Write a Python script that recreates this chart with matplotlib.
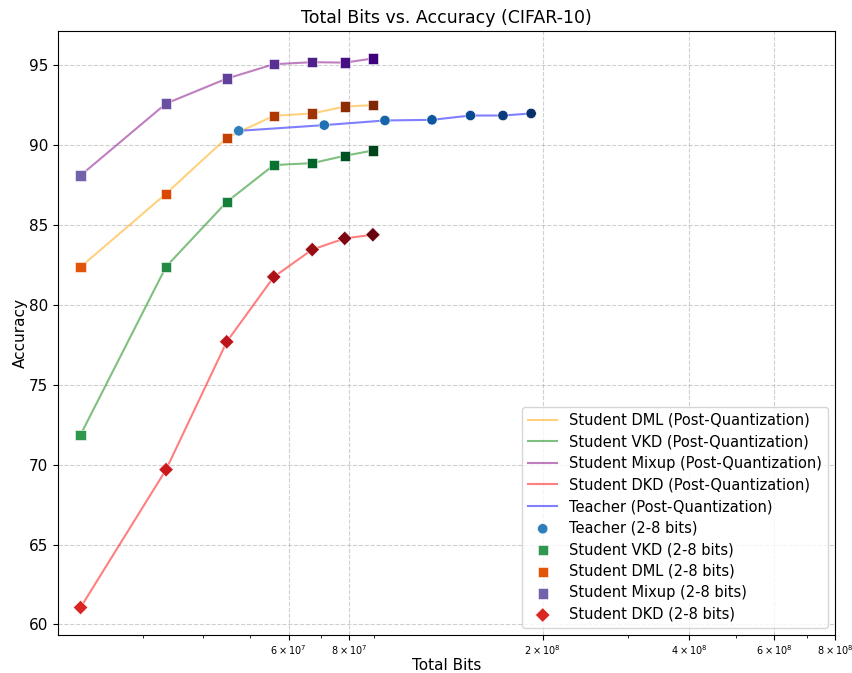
import matplotlib
matplotlib.use("Agg")
import matplotlib.pyplot as plt
import numpy as np
from matplotlib.ticker import LogFormatterSciNotation, NullFormatter

# Data (total bits for 2..8-bit quantization, accuracy)
bits = [2, 3, 4, 5, 6, 7, 8]
student_total_bits = [2.236e7, 3.354e7, 4.472e7, 5.590e7, 6.708e7, 7.826e7, 8.944e7]
teacher_total_bits = [4.735e7, 7.102e7, 9.470e7, 1.1837e8, 1.4205e8, 1.6572e8, 1.894e8]

acc_teacher = [90.89, 91.25, 91.54, 91.58, 91.85, 91.85, 91.98]
acc_vkd = [71.87, 82.39, 86.44, 88.75, 88.87, 89.33, 89.66]
acc_dml = [82.37, 86.96, 90.46, 91.83, 91.98, 92.41, 92.50]
acc_mixup = [88.10, 92.60, 94.16, 95.06, 95.19, 95.16, 95.42]
acc_dkd = [61.06, 69.69, 77.69, 81.75, 83.46, 84.16, 84.39]

xtick_values = [6e7, 8e7, 2e8, 4e8, 6e8, 8e8]

fig = plt.figure(figsize=(8.52, 6.73), dpi=100)
ax = fig.add_axes([0.0681, 0.0565, 0.9119, 0.8974])

lw = 1.5
ax.plot(student_total_bits, acc_dml, color='orange', alpha=0.5, lw=lw, label='Student DML (Post-Quantization)', zorder=2)
ax.plot(student_total_bits, acc_vkd, color='green', alpha=0.5, lw=lw, label='Student VKD (Post-Quantization)', zorder=2)
ax.plot(student_total_bits, acc_mixup, color='purple', alpha=0.5, lw=lw, label='Student Mixup (Post-Quantization)', zorder=2)
ax.plot(student_total_bits, acc_dkd, color='red', alpha=0.5, lw=lw, label='Student DKD (Post-Quantization)', zorder=2)
ax.plot(teacher_total_bits, acc_teacher, color='blue', alpha=0.5, lw=lw, label='Teacher (Post-Quantization)', zorder=2)

shades = np.linspace(0.7, 1.0, len(bits))
def cols(name):
    return plt.get_cmap(name)(shades)

s = 55
ax.scatter(teacher_total_bits, acc_teacher, c=cols('Blues'), marker='o', s=s, label='Teacher (2-8 bits)', zorder=3, edgecolors='white', linewidths=0.4)
ax.scatter(student_total_bits, acc_vkd, c=cols('Greens'), marker='s', s=s, label='Student VKD (2-8 bits)', zorder=3, edgecolors='white', linewidths=0.4)
ax.scatter(student_total_bits, acc_dml, c=cols('Oranges'), marker='s', s=s, label='Student DML (2-8 bits)', zorder=3, edgecolors='white', linewidths=0.4)
ax.scatter(student_total_bits, acc_mixup, c=cols('Purples'), marker='s', s=s, label='Student Mixup (2-8 bits)', zorder=3, edgecolors='white', linewidths=0.4)
ax.scatter(student_total_bits, acc_dkd, c=cols('Reds'), marker='D', s=s, label='Student DKD (2-8 bits)', zorder=3, edgecolors='white', linewidths=0.4)

ax.set_xscale('log')
ax.set_xticks(xtick_values)
ax.xaxis.set_major_formatter(LogFormatterSciNotation(labelOnlyBase=False, minor_thresholds=(np.inf, np.inf)))
ax.xaxis.set_minor_formatter(NullFormatter())
ax.tick_params(axis='x', which='major', labelsize=7, pad=2.5)
ax.tick_params(axis='y', labelsize=11)

ax.set_xlabel('Total Bits', fontsize=11, labelpad=1)
ax.set_ylabel('Accuracy', fontsize=11, labelpad=1)
ax.set_title('Total Bits vs. Accuracy (CIFAR-10)', fontsize=12.5)
ax.grid(True, linestyle='--', alpha=0.6)
ax.legend(loc='lower right', fontsize=10.5, labelspacing=0.45)

fig.savefig('out.png', dpi=100)
